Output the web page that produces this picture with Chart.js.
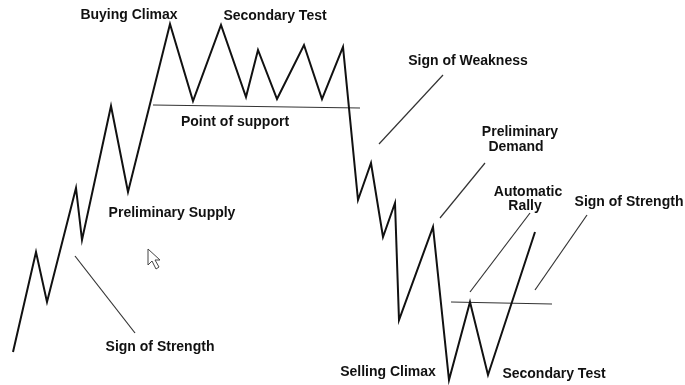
<!DOCTYPE html>
<html>
<head>
<meta charset="utf-8">
<script src="https://cdn.jsdelivr.net/npm/chart.js@4/dist/chart.umd.min.js"></script>
<style>
html, body { margin: 0; padding: 0; background: #fff; }
#box { width: 685px; height: 385px; }
</style>
</head>
<body>
<div id="box"><canvas id="myChart"></canvas></div>
<script>
// price path (time, price)
var pathTime  = [13, 36, 47, 76, 82, 111, 128, 170, 193, 221, 246, 258, 277, 304, 322, 343, 358, 371, 383, 395, 399, 433, 449, 470, 488, 535];
var pathPrice = [33, 133, 83, 197, 145, 279, 193, 361, 284, 360, 288, 335, 286, 340, 286, 338, 185, 222, 148, 182, 65, 158, 5, 83, 10, 153];

// support lines
var supportFrom = [[153, 280], [451, 83]];
var supportTo   = [[360, 277], [552, 81]];

// pointer lines from labels to the path
var pointerFrom = [[75, 129], [379, 241], [440, 167], [470, 93], [535, 95]];
var pointerTo   = [[135, 52], [443, 310], [485, 222], [530, 172], [587, 170]];

// labels
var labelText  = ["Buying Climax", "Secondary Test", "Point of support", "Preliminary Supply", "Sign of Strength",
                  "Sign of Weakness", "Preliminary", "Demand", "Automatic", "Rally", "Sign of Strength",
                  "Selling Climax", "Secondary Test"];
var labelTime  = [129, 275, 235, 172, 160, 468, 520, 516, 528, 525, 629, 388, 554];
var labelPrice = [370, 369, 263, 172, 38, 324, 253, 238, 193, 179, 183, 13, 11];

function pts(xs, ys) {
	var out = [];
	for (var i = 0; i < xs.length; i++) out.push({x: xs[i], y: ys[i]});
	return out;
}

var datasets = [];
datasets.push({
	data: pts(pathTime, pathPrice),
	borderColor: "#111",
	borderWidth: 2,
	pointRadius: 0,
	showLine: true,
	tension: 0,
});
for (var i = 0; i < supportFrom.length; i++) {
	datasets.push({
		data: [{x: supportFrom[i][0], y: supportFrom[i][1]}, {x: supportTo[i][0], y: supportTo[i][1]}],
		borderColor: "#333",
		borderWidth: 1.2,
		pointRadius: 0,
		showLine: true,
	});
}
for (var i = 0; i < pointerFrom.length; i++) {
	datasets.push({
		data: [{x: pointerFrom[i][0], y: pointerFrom[i][1]}, {x: pointerTo[i][0], y: pointerTo[i][1]}],
		borderColor: "#333",
		borderWidth: 1.2,
		pointRadius: 0,
		showLine: true,
	});
}

var labelPlugin = {
	id: "labels",
	afterDatasetsDraw: function(chart) {
		var ctx = chart.ctx;
		var xs = chart.scales.x, ys = chart.scales.y;
		ctx.save();
		ctx.fillStyle = "#111";
		ctx.font = "bold 14px 'Liberation Sans', Arial, sans-serif";
		ctx.textAlign = "center";
		ctx.textBaseline = "middle";
		for (var i = 0; i < labelText.length; i++) {
			ctx.fillText(labelText[i], xs.getPixelForValue(labelTime[i]), ys.getPixelForValue(labelPrice[i]));
		}
		// mouse cursor left in the screenshot
		var cx = xs.getPixelForValue(148), cy = ys.getPixelForValue(136);
		ctx.beginPath();
		ctx.moveTo(cx, cy);
		ctx.lineTo(cx, cy + 16);
		ctx.lineTo(cx + 4, cy + 12);
		ctx.lineTo(cx + 8, cy + 20);
		ctx.lineTo(cx + 11, cy + 18);
		ctx.lineTo(cx + 7, cy + 11);
		ctx.lineTo(cx + 12, cy + 11);
		ctx.closePath();
		ctx.fillStyle = "#fff";
		ctx.fill();
		ctx.strokeStyle = "#444";
		ctx.lineWidth = 1;
		ctx.stroke();
		ctx.restore();
	}
};

new Chart("myChart", {
	type: "scatter",
	data: { datasets: datasets },
	options: {
		responsive: true,
		maintainAspectRatio: false,
		animation: false,
		layout: { padding: 0 },
		plugins: { legend: { display: false }, tooltip: { enabled: false } },
		scales: {
			x: { type: "linear", min: 0, max: 685, display: false },
			y: { type: "linear", min: 0, max: 385, display: false },
		},
	},
	plugins: [labelPlugin],
});
</script>
</body>
</html>
